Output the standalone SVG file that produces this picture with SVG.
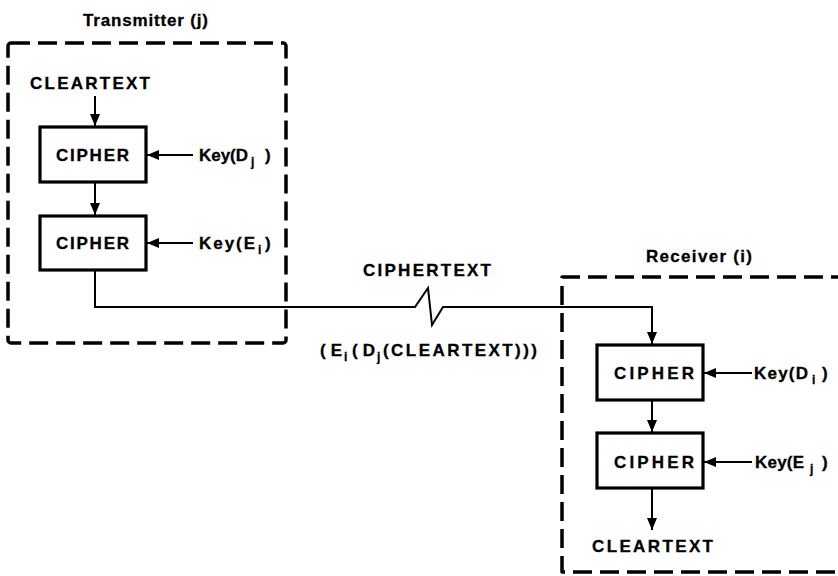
<svg xmlns="http://www.w3.org/2000/svg" width="838" height="576" viewBox="0 0 838 576">
<style>
text{font-family:"Liberation Sans",Arial,sans-serif;font-weight:bold;fill:#000;font-size:17px;stroke:#000;stroke-width:0.3}
.sub{font-size:12px}
.dash{fill:none;stroke:#000;stroke-width:3.5;stroke-dasharray:19 8;stroke-linejoin:round}
.box{fill:#fff;stroke:#000;stroke-width:3.2}
.ln{fill:none;stroke:#000;stroke-width:2}
</style>
<defs>
<marker id="ah" viewBox="0 0 12 10" refX="12" refY="5" markerWidth="12" markerHeight="10" markerUnits="userSpaceOnUse" orient="auto">
<path d="M0,0 L12,5 L0,10 Z" fill="#000"/>
</marker>
</defs>
<g id="transmitter">
<rect class="dash" x="8" y="43" width="278" height="300" rx="3"/>
<text x="83" y="26" textLength="125" lengthAdjust="spacing">Transmitter (j)</text>
<text x="30" y="89" textLength="120" lengthAdjust="spacing">CLEARTEXT</text>
</g>
<g id="t-cipher1">
<rect class="box" x="40" y="127" width="106" height="55"/>
<text x="56" y="161" textLength="73" lengthAdjust="spacing">CIPHER</text>
</g>
<g id="t-key1">
<text x="199" y="161" textLength="49" lengthAdjust="spacing">Key(D</text>
<text class="sub" x="251" y="166">j</text>
<text x="265" y="161">)</text>
</g>
<g id="t-cipher2">
<rect class="box" x="40" y="216" width="106" height="54"/>
<text x="56" y="249" textLength="73" lengthAdjust="spacing">CIPHER</text>
</g>
<g id="t-key2">
<text x="199" y="249" textLength="56" lengthAdjust="spacing">Key(E</text>
<text class="sub" x="258" y="254">i</text>
<text x="265" y="249">)</text>
</g>
<g id="receiver">
<path class="dash" d="M850,277 L562,277 L562,572 L850,572"/>
<text x="646" y="262" textLength="106" lengthAdjust="spacing">Receiver (i)</text>
<text x="592" y="552" textLength="121" lengthAdjust="spacing">CLEARTEXT</text>
</g>
<g id="r-cipher1">
<rect class="box" x="597" y="345" width="106" height="55"/>
<text x="614" y="379" textLength="80" lengthAdjust="spacing">CIPHER</text>
</g>
<g id="r-key1">
<text x="754" y="379" textLength="54" lengthAdjust="spacing">Key(D</text>
<text class="sub" x="812" y="384">i</text>
<text x="822" y="379">)</text>
</g>
<g id="r-cipher2">
<rect class="box" x="597" y="433" width="106" height="55"/>
<text x="614" y="468" textLength="80" lengthAdjust="spacing">CIPHER</text>
</g>
<g id="r-key2">
<text x="755" y="468" textLength="49" lengthAdjust="spacing">Key(E</text>
<text class="sub" x="810" y="473">j</text>
<text x="822" y="468">)</text>
</g>
<g id="channel-labels">
<text x="363" y="276" textLength="128" lengthAdjust="spacing">CIPHERTEXT</text>
<text x="320" y="356" textLength="22" lengthAdjust="spacing">(E</text>
<text class="sub" x="344" y="361">i</text>
<text x="352" y="356" textLength="23" lengthAdjust="spacing">(D</text>
<text class="sub" x="377" y="361">j</text>
<text x="383" y="356" textLength="154" lengthAdjust="spacing">(CLEARTEXT)))</text>
</g>
<g id="connectors">
<path class="ln" d="M95,96 L95,126" marker-end="url(#ah)"/>
<path class="ln" d="M95,183 L95,215" marker-end="url(#ah)"/>
<path class="ln" d="M193,155 L147,155" marker-end="url(#ah)"/>
<path class="ln" d="M193,243 L147,243" marker-end="url(#ah)"/>
<path class="ln" d="M95,270 L95,307 L415,307 L428,288 L432,325 L443,307 L652,307 L652,344" marker-end="url(#ah)"/>
<path class="ln" d="M752,373 L704,373" marker-end="url(#ah)"/>
<path class="ln" d="M652,400 L652,432" marker-end="url(#ah)"/>
<path class="ln" d="M752,462 L704,462" marker-end="url(#ah)"/>
<path class="ln" d="M652,488 L652,530" marker-end="url(#ah)"/>
</g>
</svg>
